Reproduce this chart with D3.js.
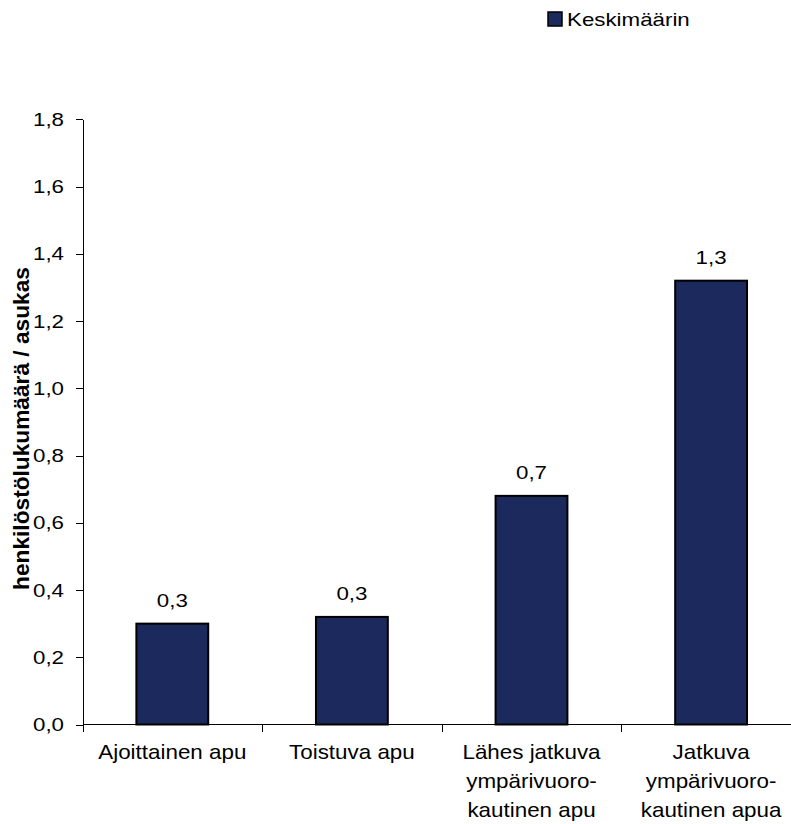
<!DOCTYPE html>
<html>
<head>
<meta charset="utf-8">
<script src="https://cdn.jsdelivr.net/npm/d3@7"></script>
<style>
  html, body { margin: 0; padding: 0; background: #fff; }
  svg { display: block; font-family: "Liberation Sans", Arial, sans-serif; }
</style>
</head>
<body>
<svg id="chart" width="791" height="824"></svg>
<script>
// Henkilöstömitoitus avuntarpeen mukaan
const categories = [
  ["Ajoittainen apu"],
  ["Toistuva apu"],
  ["Lähes jatkuva", "ympärivuoro-", "kautinen apu"],
  ["Jatkuva", "ympärivuoro-", "kautinen apua"]
];
const seriesName = "Keskimäärin";
const values = [0.30, 0.32, 0.68, 1.32];
const yTicks = [0, 0.2, 0.4, 0.6, 0.8, 1.0, 1.2, 1.4, 1.6, 1.8];
const yTitle = "henkilöstölukumäärä / asukas";

const barColor = "#1b295c";

const svg = d3.select("#chart");
const keys = categories.map((c, i) => i);

const plot = { left: 82.5, right: 800.9, top: 119.3, bottom: 724.5 };

const y = d3.scaleLinear().domain([0, 1.8]).range([plot.bottom, plot.top]);
const xBand = d3.scaleBand().domain(keys).range([plot.left, plot.right]).padding(0);
const xBar = d3.scaleBand().domain(keys).range([plot.left, plot.right])
  .paddingInner(0.6).paddingOuter(0.3);

const fmt = v => d3.format(".1f")(v).replace(".", ",");

// Writes a label, widened horizontally around its anchor point
function label(parent, x, yPos, text, anchor, size = 18, stretch = 1.24) {
  const g = parent.append("g").attr("transform", `translate(${x},${yPos})`);
  return g.append("text")
    .attr("transform", `scale(${stretch},1)`)
    .attr("text-anchor", anchor)
    .attr("font-size", size)
    .attr("fill", "#000")
    .text(text);
}

// Y axis
const yAxis = d3.axisLeft(y).tickValues(yTicks).tickSize(7).tickSizeOuter(0).tickFormat(() => "");
const yg = svg.append("g").attr("transform", `translate(${plot.left},0)`).call(yAxis);
yg.selectAll("path, line").attr("stroke", "#000").attr("shape-rendering", "crispEdges");
yTicks.forEach(t => label(svg, 64, y(t) + 6.5, fmt(t), "end"));

// X axis: baseline and category boundary ticks
svg.append("line")
  .attr("x1", plot.left).attr("x2", 791)
  .attr("y1", plot.bottom).attr("y2", plot.bottom)
  .attr("stroke", "#000").attr("shape-rendering", "crispEdges");
const boundaries = keys.map(k => xBand(k)).concat([plot.right]);
svg.append("g").selectAll("line").data(boundaries).join("line")
  .attr("x1", d => Math.round(d) + 0.5).attr("x2", d => Math.round(d) + 0.5)
  .attr("y1", plot.bottom).attr("y2", plot.bottom + 7)
  .attr("stroke", "#000").attr("shape-rendering", "crispEdges");

// Category labels
categories.forEach((lines, i) => {
  const cx = xBand(i) + xBand.bandwidth() / 2;
  lines.forEach((ln, j) => label(svg, cx, 759 + j * 29, ln, "middle", 20, 1.12));
});

// Bars
svg.append("g").selectAll("rect").data(values).join("rect")
  .attr("x", (d, i) => xBar(i))
  .attr("width", xBar.bandwidth())
  .attr("y", d => y(d))
  .attr("height", d => y(0) - y(d))
  .attr("fill", barColor)
  .attr("stroke", "#000")
  .attr("stroke-width", 2);

// Value labels
values.forEach((v, i) => {
  label(svg, xBar(i) + xBar.bandwidth() / 2, y(v) - 17, fmt(v), "middle");
});

// Y axis title
svg.append("text")
  .attr("transform", `translate(29,428.5) rotate(-90)`)
  .attr("text-anchor", "middle")
  .attr("font-size", 22.7)
  .attr("font-weight", "bold")
  .attr("fill", "#000")
  .text(yTitle);

// Legend
const legend = svg.append("g");
legend.append("rect")
  .attr("x", 548).attr("y", 12).attr("width", 14).attr("height", 14)
  .attr("fill", barColor).attr("stroke", "#000").attr("stroke-width", 1.5);
label(legend, 567, 26, seriesName, "start");
</script>
</body>
</html>
